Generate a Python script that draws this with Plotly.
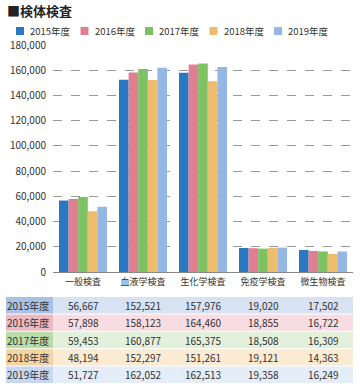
import plotly.graph_objects as go

categories = ["一般検査", "血液学検査", "生化学検査", "免疫学検査", "微生物検査"]
years = ["2015年度", "2016年度", "2017年度", "2018年度", "2019年度"]
values = {
    "2015年度": [56667, 152521, 157976, 19020, 17502],
    "2016年度": [57898, 158123, 164460, 18855, 16722],
    "2017年度": [59453, 160877, 165375, 18508, 16309],
    "2018年度": [48194, 152297, 151261, 19121, 14363],
    "2019年度": [51727, 162052, 162513, 19358, 16249],
}
bar_colors = ["#2b78c2", "#e07f91", "#7dc262", "#ecbc6f", "#94b8e3"]
row_head_colors = ["#a9c1e4", "#eab9c1", "#b9dca8", "#f5d4a2", "#c7d8f0"]
row_body_colors = ["#d7e2f3", "#f7dde1", "#e3f1dc", "#fcebd3", "#e5edf8"]

W, H = 360, 391
L, R, T, B = 53, 7, 45, 119
PW, PH = W - L - R, H - T - B

def px_x(px):
    return (px - L) / PW

def px_y(py):
    return (H - B - py) / PH

FONT = "Noto Sans CJK JP"

fig = go.Figure()
for yr, c in zip(years, bar_colors):
    fig.add_trace(go.Bar(x=categories, y=values[yr], name=yr, showlegend=False,
                         marker=dict(color=c, line=dict(width=0))))

shapes = []
annotations = []

# legend (manual)
for i, (yr, c) in enumerate(zip(years, bar_colors)):
    sx = 16 + i * 64.5
    shapes.append(dict(type="rect", xref="paper", yref="paper", x0=px_x(sx), x1=px_x(sx + 8),
                       y0=px_y(35), y1=px_y(27), fillcolor=c, line=dict(width=0)))
    annotations.append(dict(text=yr, xref="paper", yref="paper", x=px_x(sx + 12), y=px_y(31),
                            showarrow=False, xanchor="left", yanchor="middle",
                            font=dict(size=9.5, color="#333", family=FONT)))

# table
top, rh = 297, 17.4
for i, yr in enumerate(years):
    y0 = top + i * rh
    y1 = y0 + rh - 1
    shapes.append(dict(type="rect", xref="paper", yref="paper", x0=px_x(6), x1=px_x(53),
                       y0=px_y(y1), y1=px_y(y0), fillcolor=row_head_colors[i], line=dict(width=0), layer="below"))
    shapes.append(dict(type="rect", xref="paper", yref="paper", x0=px_x(53), x1=px_x(353),
                       y0=px_y(y1), y1=px_y(y0), fillcolor=row_body_colors[i], line=dict(width=0), layer="below"))
    yc = px_y((y0 + y1) / 2)
    annotations.append(dict(text=yr, xref="paper", yref="paper", x=px_x(28), y=yc, showarrow=False,
                            xanchor="center", yanchor="middle", font=dict(size=10, color="#333", family=FONT)))
    for j, cat in enumerate(categories):
        annotations.append(dict(text=f"{values[yr][j]:,}", xref="x", yref="paper", x=cat, y=yc, showarrow=False,
                                xanchor="center", yanchor="middle", font=dict(size=10, color="#333", family=FONT)))

annotations.append(dict(text="<b>■検体検査</b>", xref="paper", yref="paper", x=px_x(5), y=px_y(11),
                        showarrow=False, xanchor="left", yanchor="middle",
                        font=dict(size=13, color="#222", family=FONT)))

fig.update_layout(
    width=W, height=H,
    margin=dict(l=L, r=R, t=T, b=B),
    paper_bgcolor="white", plot_bgcolor="white",
    barmode="group", bargap=0.2, bargroupgap=0,
    font=dict(family=FONT, color="#333", size=10),
    showlegend=False,
    shapes=shapes,
    annotations=annotations,
)
fig.update_yaxes(range=[0, 180000], dtick=20000, tickformat=",", showgrid=True,
                 gridcolor="#9a9a9a", griddash="dash", gridwidth=1, zeroline=False,
                 automargin=False, ticks="outside", ticklen=4, tickcolor="white",
                 tickfont=dict(size=10, color="#333"))
fig.update_xaxes(showline=True, linecolor="#888", linewidth=1, automargin=False,
                 tickfont=dict(size=9, color="#333"), ticks="", ticklabelstandoff=1)

fig.write_html("out.html", config={"displayModeBar": False},
               post_script="document.body.style.margin='0';document.body.style.overflow='hidden';")
